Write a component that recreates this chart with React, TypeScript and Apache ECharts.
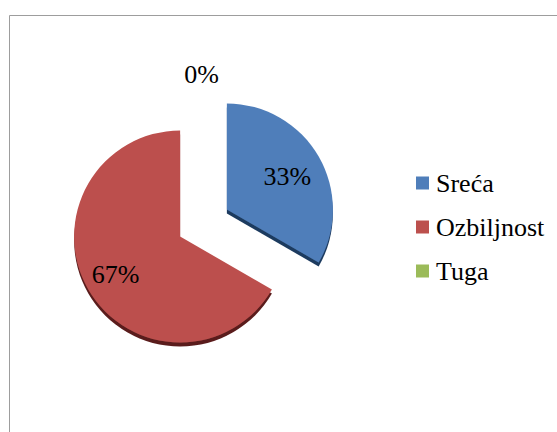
import React, { useEffect, useRef } from "react";
import * as echarts from "echarts";

const categories = ["Sreća", "Ozbiljnost", "Tuga"];
const values = [1, 2, 0];
const colors = ["#4F7EBA", "#BC504D", "#9BBB59"];
const edgeColors = ["#1E3A5F", "#5A1D1C", "#4E6128"];
const exploded = [true, true, false];

export default function App() {
  const ref = useRef<HTMLDivElement>(null);
  useEffect(() => {
    if (!ref.current) return;
    const chart = echarts.init(ref.current, undefined, { renderer: "svg" });
    const font = "Liberation Serif";
    const labelOffsets = [
      [12, -5],
      [-16, 10],
      [-2, -93],
    ];
    const data = categories.map((name, i) => {
      const itemStyle = {
        color: colors[i],
        shadowColor: edgeColors[i],
        shadowBlur: 0.5,
        shadowOffsetY: 4,
        shadowOffsetX: 0,
      };
      return {
        name,
        value: values[i],
        selected: exploded[i],
        itemStyle,
        label: { offset: labelOffsets[i] },
        select: { itemStyle, label: { offset: labelOffsets[i] } },
      };
    });
    chart.setOption({
      animation: false,
      backgroundColor: "#ffffff",
      textStyle: { fontFamily: font },
      graphic: [
        {
          type: "rect",
          shape: { x: 9.5, y: 15.5, width: 700, height: 600 },
          style: { fill: "none", stroke: "#9D9D9D", lineWidth: 1 },
          silent: true,
          z: -1,
        },
      ],
      legend: {
        orient: "vertical",
        left: 411,
        top: 165,
        icon: "rect",
        itemWidth: 13,
        itemHeight: 13,
        itemGap: 18,
        selectedMode: false,
        data: categories,
        textStyle: {
          fontFamily: font,
          fontSize: 26,
          lineHeight: 26,
          color: "#000000",
          padding: [0, 0, 0, 2],
        },
      },
      series: [
        {
          type: "pie",
          silent: true,
          center: [203.5, 223],
          radius: [0, 106],
          startAngle: 90,
          clockwise: true,
          selectedMode: "multiple",
          selectedOffset: 27,
          percentPrecision: 0,
          avoidLabelOverlap: false,
          label: {
            show: true,
            position: "inside",
            formatter: "{d}%",
            fontFamily: font,
            fontSize: 26,
            color: "#000000",
          },
          labelLine: { show: false },
          emphasis: { disabled: true },
          data,
        },
      ],
    });
    return () => chart.dispose();
  }, []);
  return (
    <div
      ref={ref}
      style={{ position: "fixed", left: 0, top: 0, width: 557, height: 432 }}
    />
  );
}
